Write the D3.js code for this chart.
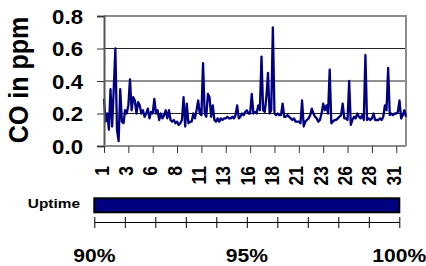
<!DOCTYPE html>
<html><head><meta charset="utf-8">
<script src="https://cdn.jsdelivr.net/npm/d3@7"></script>
<style>
html,body{margin:0;padding:0;background:#fff;}
svg{display:block;font-family:"Liberation Sans",Arial,sans-serif;font-weight:bold;}
</style></head>
<body><svg id="c" width="426" height="266"></svg>
<script>
// ---- data ----
const startDay = 1;
const stepDays = 1/6; // 4-hourly readings
const coPpm = [
 0.29,0.15,0.20,0.10,0.35,0.12,
 0.35,0.60,0.10,0.03,0.35,0.15,
 0.14,0.22,0.20,0.25,0.41,0.22,
 0.30,0.28,0.20,0.27,0.25,0.20,
 0.22,0.18,0.20,0.23,0.17,0.21,
 0.20,0.29,0.20,0.22,0.16,0.20,
 0.17,0.19,0.22,0.17,0.22,0.16,
 0.15,0.16,0.14,0.15,0.13,0.14,
 0.16,0.30,0.12,0.26,0.14,0.15,
 0.15,0.20,0.17,0.22,0.28,0.20,
 0.19,0.51,0.20,0.18,0.32,0.30,
 0.18,0.25,0.16,0.15,0.17,0.15,
 0.17,0.16,0.17,0.17,0.18,0.17,
 0.17,0.18,0.17,0.19,0.25,0.17,
 0.18,0.20,0.19,0.21,0.22,0.20,
 0.20,0.32,0.20,0.21,0.20,0.25,
 0.22,0.55,0.22,0.21,0.30,0.45,
 0.20,0.22,0.73,0.20,0.19,0.20,
 0.19,0.19,0.26,0.18,0.18,0.19,
 0.18,0.17,0.16,0.17,0.15,0.15,
 0.15,0.14,0.28,0.12,0.15,0.16,
 0.17,0.19,0.23,0.20,0.18,0.17,
 0.15,0.16,0.20,0.26,0.22,0.25,
 0.20,0.47,0.14,0.15,0.16,0.16,
 0.17,0.18,0.19,0.26,0.17,0.17,
 0.16,0.40,0.13,0.16,0.18,0.17,
 0.20,0.18,0.17,0.19,0.16,0.56,
 0.16,0.17,0.16,0.17,0.20,0.16,
 0.16,0.16,0.17,0.16,0.18,0.25,
 0.22,0.48,0.19,0.20,0.19,0.20,
 0.20,0.21,0.28,0.17,0.19,0.22,
 0.18
];
const xTickDays = [1,3.5,6,8.5,11,13.5,16,18.5,21,23.5,26,28.5,31];
const xTickLabels = ["1","3","6","8","11","13","16","18","21","23","26","28","31"];
const yTicks = [0,0.2,0.4,0.6,0.8];
const yTitle = "CO in ppm";
const uptimeLabel = "Uptime";
const uptimeValue = 100;
const uptimeTicks = [90,91,92,93,94,95,96,97,98,99,100];
const uptimeTickLabels = ["90%","95%","100%"];
const uptimeLabelValues = [90,95,100];

// ---- drawing ----
const SX = 1.14; // horizontal text stretch
const svg = d3.select("#c");
const x = d3.scaleLinear().domain([1,32]).range([104,406]);
const y = d3.scaleLinear().domain([0,0.8]).range([146,16]);

// gridlines
svg.append("g").selectAll("line").data(yTicks.filter(v=>v>0 && v<0.8)).join("line")
  .attr("x1",x(1)).attr("x2",x(32)).attr("y1",d=>y(d)).attr("y2",d=>y(d))
  .attr("stroke","#222").attr("stroke-width",1);

// plot border (top & right gray)
svg.append("path")
  .attr("d",`M${x(1)},${y(0.8)}H${x(32)}V${y(0)}`)
  .attr("fill","none").attr("stroke","#8c8c8c").attr("stroke-width",2);

// line
const pts = coPpm.map((v,i)=>({d:startDay+i*stepDays,v}));
svg.append("path").datum(pts)
  .attr("d",d3.line().x(p=>x(p.d)).y(p=>y(p.v)))
  .attr("fill","none").attr("stroke","#000080").attr("stroke-width",2.3)
  .attr("stroke-linejoin","round");

// y axis
const ya = svg.append("g").attr("transform",`translate(${x(1)},0)`)
  .call(d3.axisLeft(y).tickValues(yTicks).tickSize(7).tickFormat(d3.format(".1f")));
ya.select(".domain").attr("stroke","#555").attr("stroke-width",2);
ya.selectAll(".tick line").attr("stroke","#333");
ya.selectAll(".tick text").attr("x",null).attr("dy",null)
  .attr("transform","translate(-21,7) scale("+SX+",1)")
  .attr("font-size",19.5).attr("font-weight","bold").attr("font-family","Liberation Sans, Arial, sans-serif")
  .attr("fill","#000").attr("text-anchor","end");

// x axis
const xa = svg.append("g").attr("transform",`translate(0,${y(0)})`)
  .call(d3.axisBottom(x).tickValues(xTickDays).tickSize(7).tickFormat((d,i)=>xTickLabels[i]));
xa.select(".domain").attr("stroke","#8c8c8c").attr("stroke-width",2).attr("d",`M${x(1)},0H${x(32)}`);
xa.selectAll(".tick line").attr("stroke","#333");
xa.selectAll(".tick text").attr("y",null).attr("dy",null)
  .attr("transform","translate(4,20) scale("+SX+",1) rotate(-90)")
  .attr("font-size",17.5).attr("font-weight","bold").attr("font-family","Liberation Sans, Arial, sans-serif")
  .attr("fill","#000").attr("text-anchor","end");

// y title
svg.append("text").text(yTitle)
  .attr("transform","translate(28,80) scale("+SX+",1) rotate(-90)")
  .attr("text-anchor","middle").attr("font-size",25).attr("fill","#000");

// uptime bar
const u = d3.scaleLinear().domain([90,100]).range([94.3,399.3]);
svg.append("rect").attr("x",u(90)).attr("y",198.3).attr("width",u(uptimeValue)-u(90)).attr("height",14)
  .attr("fill","#000080").attr("stroke","#000").attr("stroke-width",2);
const ua = svg.append("g").attr("transform","translate(0,222)")
  .call(d3.axisBottom(u).tickValues(uptimeTicks).tickSizeInner(6).tickSizeOuter(0).tickFormat(""));
ua.select(".domain").attr("stroke","#000").attr("stroke-width",1);
ua.selectAll(".tick line").attr("y1",-5).attr("y2",6).attr("stroke","#000");
svg.append("g").selectAll("text").data(uptimeLabelValues).join("text")
  .text((d,i)=>uptimeTickLabels[i])
  .attr("transform",d=>`translate(${u(d)},261.5) scale(${SX},1)`)
  .attr("text-anchor","middle").attr("font-size",18.5).attr("fill","#000");
svg.append("text").text(uptimeLabel)
  .attr("transform","translate(80,208) scale("+SX+",1)")
  .attr("text-anchor","end").attr("font-size",13.5).attr("fill","#000");
</script></body></html>
